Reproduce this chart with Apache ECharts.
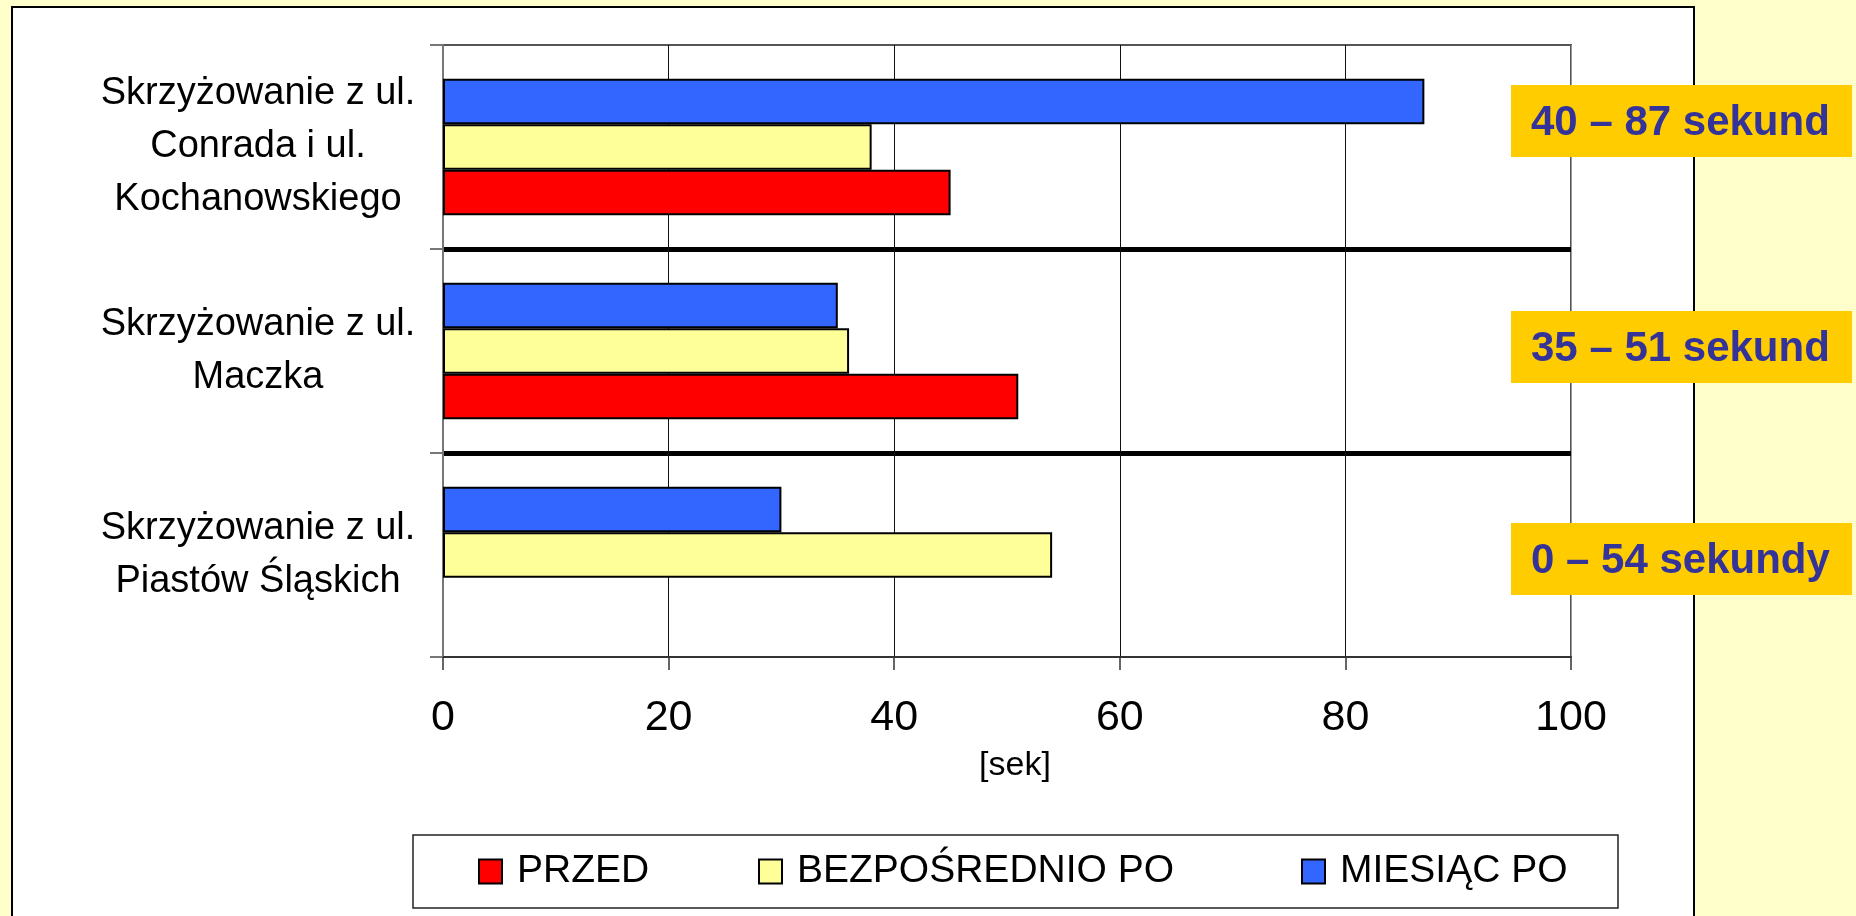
<!DOCTYPE html>
<html>
<head>
<meta charset="utf-8">
<title>Czas oczekiwania</title>
<script src="https://cdn.jsdelivr.net/npm/echarts@6/dist/echarts.min.js"></script>
<style>
    html, body { margin: 0; padding: 0; background: #FFFFCC; }
    #chart { width: 1856px; height: 916px; }
</style>
</head>
<body>
<div id="chart"></div>
<script>
// categories, top to bottom
const categories = [
    'Skrzyżowanie z ul.\nConrada i ul.\nKochanowskiego',
    'Skrzyżowanie z ul.\nMaczka',
    'Skrzyżowanie z ul.\nPiastów Śląskich'
]
const przed = [45, 51, 0]
const bezposrednio = [38, 36, 54]
const miesiac = [87, 35, 30]
const rangeLabels = ['40 – 87 sekund', '35 – 51 sekund', '0 – 54 sekundy']
const legendNames = ['PRZED', 'BEZPOŚREDNIO PO', 'MIESIĄC PO']

const font = '"Liberation Sans", Arial, sans-serif'
const colors = { przed: '#FF0000', bezp: '#FFFF99', mies: '#3366FF' }

const myChart = echarts.init(document.getElementById('chart'), null, { renderer: 'canvas' })

const barStyle = (color) => ({ color: color, borderColor: '#000', borderWidth: 2 })
// a zero bar should not leave its outline on the axis
const toBars = (arr) => arr.map(v => v === 0 ? { value: v, itemStyle: { borderWidth: 0 } } : v)

// annotation boxes on the right
const boxTops = [85, 311, 523]
const annotations = []
rangeLabels.forEach((txt, i) => {
    annotations.push({
        type: 'rect', z: 100,
        shape: { x: 1511, y: boxTops[i], width: 341, height: 72 },
        style: { fill: '#FFCC00' }
    })
    annotations.push({
        type: 'text', z: 101,
        x: 1531, y: boxTops[i] + 38,
        style: {
            text: txt, fill: '#333399',
            font: 'bold 42px "Liberation Sans", Arial, sans-serif',
            textVerticalAlign: 'middle'
        }
    })
})

const option = {
    backgroundColor: '#FFFFCC',
    animation: false,
    graphic: [
        {
            type: 'rect', z: -10,
            shape: { x: 12, y: 7, width: 1682, height: 940 },
            style: { fill: '#fff', stroke: '#000', lineWidth: 2 }
        }
    ].concat(annotations),
    grid: {
        left: 443, top: 45, right: 285, bottom: 259,
        show: true, borderColor: '#555', borderWidth: 2, backgroundColor: 'transparent'
    },
    legend: {
        left: 413, top: 835,
        orient: 'horizontal',
        padding: [15, 20, 15, 65],
        itemGap: 0,
        itemWidth: 23, itemHeight: 24,
        icon: 'rect',
        borderColor: '#222', borderWidth: 1.5,
        backgroundColor: '#fff',
        textStyle: { fontFamily: font, fontSize: 39, lineHeight: 43, color: '#000', padding: [0, 0, 0, 10] },
        data: [
            { name: legendNames[0], textStyle: { width: 241 } },
            { name: legendNames[1], textStyle: { width: 504 } },
            { name: legendNames[2], textStyle: { width: 258 } }
        ]
    },
    xAxis: {
        type: 'value',
        min: 0, max: 100, interval: 20,
        name: '[sek]', nameLocation: 'middle', nameGap: 92,
        nameTextStyle: { fontFamily: font, fontSize: 34, color: '#000', padding: [0, 0, 0, 16] },
        axisLine: { show: true, lineStyle: { color: '#333', width: 2 } },
        axisTick: { show: true, length: 13, lineStyle: { color: '#333', width: 1.5 } },
        axisLabel: { fontFamily: font, fontSize: 43, color: '#000', margin: 40 },
        splitLine: { show: true, lineStyle: { color: ['#777', '#111', '#111', '#111', '#111', '#999'], width: 1 } }
    },
    yAxis: {
        type: 'category',
        inverse: true,
        data: categories,
        axisLine: { show: true, lineStyle: { color: '#777', width: 2 } },
        axisTick: { show: true, length: 13, lineStyle: { color: '#777', width: 2 } },
        axisLabel: { fontFamily: font, fontSize: 38, lineHeight: 53, color: '#000', align: 'center', margin: 185 },
        splitLine: { show: true, lineStyle: { color: ['rgba(0,0,0,0)', '#000', '#000', 'rgba(0,0,0,0)'], width: 5 } }
    },
    series: [
        { name: 'MIESIĄC PO', type: 'bar', data: toBars(miesiac), barGap: 0, barCategoryGap: '33%', itemStyle: barStyle(colors.mies) },
        { name: 'BEZPOŚREDNIO PO', type: 'bar', data: toBars(bezposrednio), barGap: 0, barCategoryGap: '33%', itemStyle: barStyle(colors.bezp) },
        { name: 'PRZED', type: 'bar', data: toBars(przed), barGap: 0, barCategoryGap: '33%', itemStyle: barStyle(colors.przed) }
    ]
}

myChart.setOption(option)
window.addEventListener('resize', myChart.resize)
</script>
</body>
</html>
